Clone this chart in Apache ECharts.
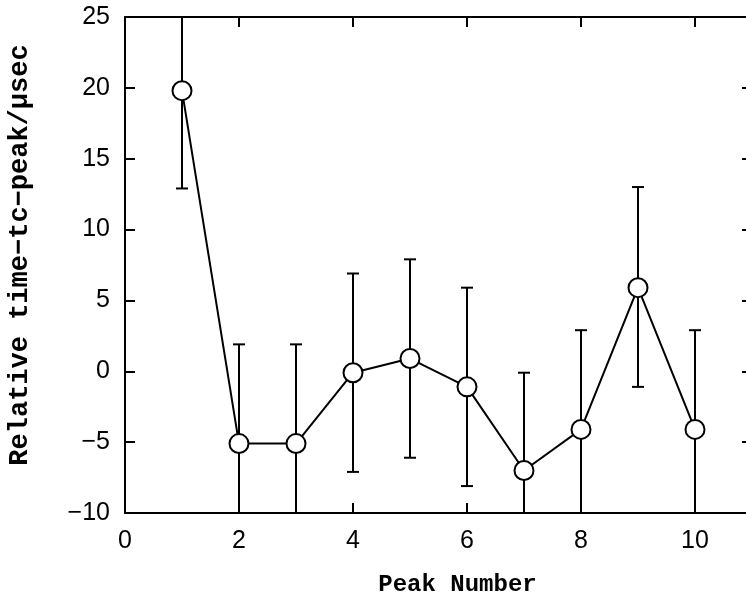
<!DOCTYPE html>
<html>
<head>
<meta charset="utf-8">
<script src="https://cdn.jsdelivr.net/npm/echarts@6/dist/echarts.min.js"></script>
<style>html,body{margin:0;padding:0;background:#fff;}#chart{width:746px;height:607px;}</style>
</head>
<body>
<div id="chart"></div>
<script>
const peaks = [1, 2, 3, 4, 5, 6, 7, 8, 9, 10];
const meanValues = [19.8, -5.1, -5.1, -0.1, 0.9, -1.1, -7.0, -4.1, 5.9, -4.1];
const upperValues = [26.8, 1.9, 1.9, 6.9, 7.9, 5.9, -0.1, 2.9, 13.0, 2.9];
const lowerValues = [12.9, -12.1, -12.1, -7.1, -6.1, -8.1, -14.0, -11.1, -1.1, -11.1];
const xTicks = [0, 2, 4, 6, 8, 10];
const yTicks = [-10, -5, 0, 5, 10, 15, 20, 25];

const lineData = peaks.map((p, i) => [p, meanValues[i]]);
const errData = peaks.map((p, i) => [p, lowerValues[i], upperValues[i]]);

function fmtNum(v) {
  return String(v).replace('-', '\u2212');
}

const axisLine = { show: true, onZero: false, lineStyle: { color: '#000', width: 2 } };
const axisTick = { show: true, inside: true, length: 10, lineStyle: { color: '#000', width: 2 } };

const chart = echarts.init(document.getElementById('chart'), null, { renderer: 'canvas' });
chart.setOption({
  animation: false,
  backgroundColor: '#fff',
  grid: { left: 125, top: 17, right: -6, bottom: 94, containLabel: false, outerBoundsMode: 'none' },
  xAxis: [
    {
      type: 'value', min: 0, max: 11, interval: 2, position: 'bottom',
      axisLine: axisLine, axisTick: axisTick, splitLine: { show: false },
      axisLabel: {
        margin: 16, fontFamily: 'Liberation Sans', fontSize: 25, color: '#000',
        formatter: v => xTicks.indexOf(v) >= 0 ? fmtNum(v) : ''
      },
      name: 'Peak Number', nameLocation: 'middle', nameGap: 60,
      nameTextStyle: { fontFamily: 'Liberation Mono', fontWeight: 'bold', fontSize: 24, color: '#000', padding: [0, 0, 0, 38] }
    },
    {
      type: 'value', min: 0, max: 11, interval: 2, position: 'top',
      axisLine: axisLine, axisTick: axisTick, splitLine: { show: false },
      axisLabel: { show: false }
    }
  ],
  yAxis: [
    {
      type: 'value', min: -10, max: 25, interval: 5, position: 'left',
      axisLine: axisLine, axisTick: axisTick, splitLine: { show: false },
      axisLabel: {
        margin: 15, fontFamily: 'Liberation Sans', fontSize: 25, color: '#000',
        formatter: v => yTicks.indexOf(v) >= 0 ? fmtNum(v) : ''
      },
      name: 'Relative time\u2212tc\u2212peak/\u03bcsec', nameLocation: 'middle', nameGap: 91, nameRotate: 90,
      nameTextStyle: { fontFamily: 'Liberation Mono', fontWeight: 'bold', fontSize: 27, color: '#000', padding: [0, 0, 0, 20] }
    },
    {
      type: 'value', min: -10, max: 25, interval: 5, position: 'right',
      axisLine: axisLine, axisTick: axisTick, splitLine: { show: false },
      axisLabel: { show: false }
    }
  ],
  series: [
    {
      type: 'custom',
      name: 'error',
      xAxisIndex: 0, yAxisIndex: 0,
      clip: true,
      z: 1,
      data: errData,
      renderItem: function (params, api) {
        const x = api.value(0), lo = api.value(1), hi = api.value(2);
        const pLo = api.coord([x, lo]);
        const pHi = api.coord([x, hi]);
        const hw = 6;
        const st = { stroke: '#000', lineWidth: 2 };
        return {
          type: 'group',
          children: [
            { type: 'line', shape: { x1: pHi[0], y1: pHi[1], x2: pLo[0], y2: pLo[1] }, style: st },
            { type: 'line', shape: { x1: pHi[0] - hw, y1: pHi[1], x2: pHi[0] + hw, y2: pHi[1] }, style: st },
            { type: 'line', shape: { x1: pLo[0] - hw, y1: pLo[1], x2: pLo[0] + hw, y2: pLo[1] }, style: st }
          ]
        };
      }
    },
    {
      type: 'line',
      name: 'mean',
      xAxisIndex: 0, yAxisIndex: 0,
      z: 3,
      data: lineData,
      symbol: 'circle',
      symbolSize: 19,
      lineStyle: { color: '#000', width: 2 },
      itemStyle: { color: '#fff', borderColor: '#000', borderWidth: 2 }
    }
  ]
});
</script>
</body>
</html>
